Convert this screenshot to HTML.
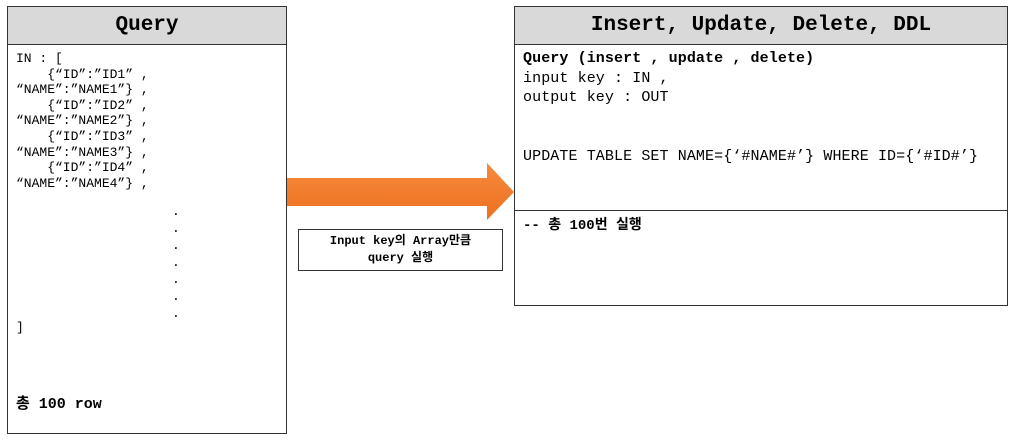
<!DOCTYPE html>
<html><head><meta charset="utf-8"><style>
body{margin:0;width:1013px;height:443px;background:#fff;position:relative;font-family:"Liberation Mono","Noto Sans CJK KR",monospace;overflow:hidden}
.box{position:absolute;border:1px solid #333;background:#fff;box-sizing:border-box}
.hd{position:absolute;left:0;right:0;top:0;height:37px;background:#d9d9d9;border-bottom:1px solid #333;font-weight:bold;font-size:21px;text-align:center;line-height:37px;color:#000}
.t{position:absolute;white-space:pre;color:#000}
</style></head><body>
<div class="box" style="left:7px;top:6px;width:280px;height:428px">
<div class="hd">Query</div>
<div class="t" style="left:8px;top:44px;font-size:13px;line-height:15.6px">IN : [
    {“ID”:”ID1” ,
“NAME”:”NAME1”} ,
    {“ID”:”ID2” ,
“NAME”:”NAME2”} ,
    {“ID”:”ID3” ,
“NAME”:”NAME3”} ,
    {“ID”:”ID4” ,
“NAME”:”NAME4”} ,</div>
<div class="t" style="left:8px;top:196px;font-size:13px;line-height:17px">                    .
                    .
                    .
                    .
                    .
                    .
                    .</div>
<div class="t" style="left:8px;top:313px;font-size:13px">]</div>
<div class="t" style="left:8px;top:385px;font-size:15px;font-weight:bold">총 100 row</div>
</div>
<div class="box" style="left:514px;top:6px;width:494px;height:300px">
<div class="hd">Insert, Update, Delete, DDL</div>
<div class="t" style="left:8px;top:42px;font-size:15px;line-height:19.5px;letter-spacing:0.1px"><b>Query (insert , update , delete)</b>
input key : IN ,
output key : OUT


UPDATE TABLE SET NAME={‘#NAME#’} WHERE ID={‘#ID#’}</div>
<div style="position:absolute;left:0;right:0;top:203px;border-top:1px solid #333"></div>
<div class="t" style="left:8px;top:207px;font-size:14px;font-weight:bold">-- 총 100번 실행</div>
</div>
<svg style="position:absolute;left:0;top:0" width="1013" height="443">
<defs><linearGradient id="g" x1="0" y1="0" x2="0" y2="1"><stop offset="0" stop-color="#f58a3c"/><stop offset="1" stop-color="#ee7020"/></linearGradient></defs>
<polygon points="287,178 487,178 487,163 514,192 487,220 487,206 287,206" fill="url(#g)"/>
</svg>
<div class="box" style="left:298px;top:229px;width:205px;height:42px;font-size:12px;font-weight:bold;text-align:center;line-height:17px;padding-top:3px">Input key의 Array만큼<br>query 실행</div>
</body></html>
